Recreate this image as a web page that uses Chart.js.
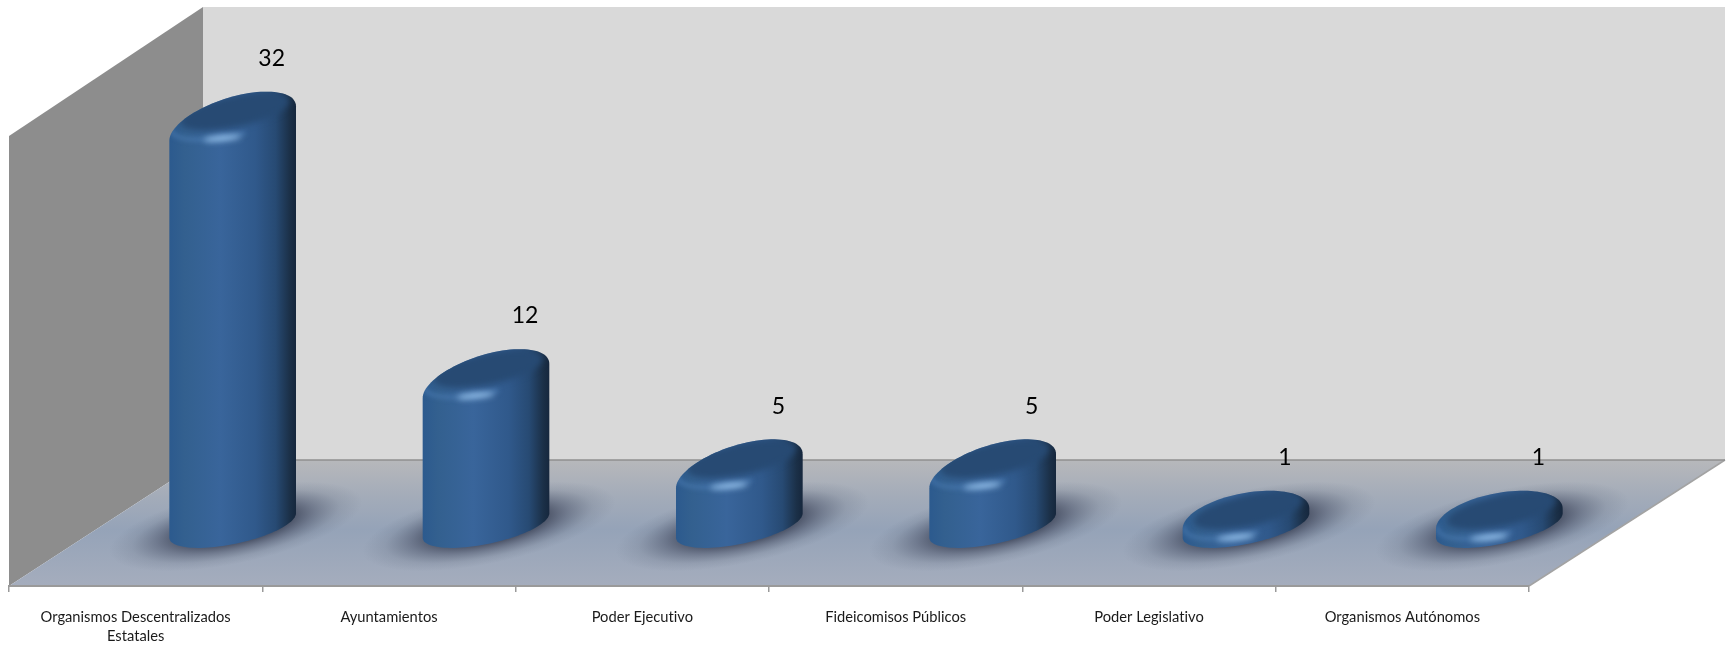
<!DOCTYPE html>
<html>
<head>
<meta charset="utf-8">
<style>
  html, body { margin: 0; padding: 0; background: #fff; }
  canvas { display: block; }
</style>
<script src="https://cdn.jsdelivr.net/npm/chart.js@4/dist/chart.umd.min.js"></script>
</head>
<body>
<canvas id="chart" width="1729" height="646"></canvas>
<script>
const categories = [
  ["Organismos Descentralizados", "Estatales"],
  "Ayuntamientos",
  "Poder Ejecutivo",
  "Fideicomisos Públicos",
  "Poder Legislativo",
  "Organismos Autónomos"
];
const values = [32, 12, 5, 5, 1, 1];

// 3D look of the Excel chart: how far the floor runs back
const depthX = 196;
const depthY = 126;
const labelDx = 136;
const labelDy = -55;

// cylinder base is a circle lying on the floor, so a sheared ellipse on screen
function ringShape(r) {
  const ratio = 0.545;
  return { a: r * Math.sqrt(1 - ratio * ratio), b: r * ratio, c: r * 0.354 };
}
function ringPath(ctx, s, cx, cy, from, to) {
  for (let i = 0; i <= 48; i++) {
    const t = from + (to - from) * i / 48;
    ctx.lineTo(cx + s.a * Math.cos(t) + s.b * Math.sin(t), cy - s.c * Math.sin(t));
  }
}
// bevelled top edge: the shoulder drops lower on the left, less so on thin discs
function shoulderPath(ctx, r, cx, cy, k) {
  const drop = r * 0.157 * k;
  const tilt = r * 0.27 * k;
  const reach = r * 0.345 + drop;
  const h = Math.sqrt(reach * reach - tilt * tilt);
  for (let i = 0; i <= 48; i++) {
    const u = Math.PI * i / 48;
    ctx.lineTo(cx + r * Math.cos(u), cy + drop - tilt * Math.cos(u) - h * Math.sin(u));
  }
}
function shear(ctx, s, cx, cy) {
  ctx.transform(s.a, 0, s.b, -s.c, cx, cy);
}

const roomPlugin = {
  id: "room",
  beforeDraw(chart) {
    const { ctx, chartArea: ca } = chart;
    ctx.letterSpacing = "0.01px"; // stops the Lato "ti" ligature
    const backL = ca.left + depthX - 2;
    const backB = ca.bottom - depthY;
    const backR = ca.right + depthX;
    ctx.save();
    // back wall
    ctx.fillStyle = "#d9d9d9";
    ctx.fillRect(backL, ca.top, backR - backL, backB - ca.top);
    // left wall
    ctx.fillStyle = "#8d8d8d";
    ctx.beginPath();
    ctx.moveTo(ca.left, ca.top + 129);
    ctx.lineTo(backL, ca.top);
    ctx.lineTo(backL, backB);
    ctx.lineTo(ca.left, ca.bottom);
    ctx.closePath();
    ctx.fill();
    // floor
    const g = ctx.createLinearGradient(0, backB, 0, ca.bottom);
    g.addColorStop(0, "#b7b8bb");
    g.addColorStop(0.28, "#a4acb9");
    g.addColorStop(0.55, "#95a3b8");
    g.addColorStop(1, "#a5adbd");
    ctx.fillStyle = g;
    ctx.beginPath();
    ctx.moveTo(ca.left, ca.bottom);
    ctx.lineTo(backL, backB);
    ctx.lineTo(backR, backB);
    ctx.lineTo(ca.right, ca.bottom);
    ctx.closePath();
    ctx.fill();
    ctx.strokeStyle = "#a3a3a3";
    ctx.lineWidth = 1.5;
    ctx.beginPath();
    ctx.moveTo(ca.right, ca.bottom);
    ctx.lineTo(backR, backB);
    ctx.stroke();
    ctx.strokeStyle = "#8f8f8f";
    ctx.beginPath();
    ctx.moveTo(backL, backB);
    ctx.lineTo(backR, backB);
    ctx.stroke();
    ctx.restore();
  },
  beforeDatasetsDraw(chart) {
    const { ctx } = chart;
    const meta = chart.getDatasetMeta(0);
    const y0 = chart.scales.y.getPixelForValue(0);
    meta.data.forEach(bar => {
      // soft shadow on the floor
      const s = ringShape(bar.width / 2);
      ctx.save();
      shear(ctx, s, bar.x + depthX / 2 + 2, y0 + 1);
      const g = ctx.createRadialGradient(0, 0, 0, 0, 0, 2);
      g.addColorStop(0, "rgba(50,56,74,0.85)");
      g.addColorStop(0.45, "rgba(55,62,82,0.78)");
      g.addColorStop(0.62, "rgba(66,74,96,0.48)");
      g.addColorStop(0.82, "rgba(78,88,108,0.15)");
      g.addColorStop(1, "rgba(85,95,115,0)");
      ctx.fillStyle = g;
      ctx.beginPath();
      ctx.arc(0, 0, 2, 0, Math.PI * 2);
      ctx.fill();
      ctx.restore();
    });
  },
  afterDatasetsDraw(chart) {
    const { ctx } = chart;
    const meta = chart.getDatasetMeta(0);
    meta.data.forEach((bar, i) => {
      const r = bar.width / 2;
      const s = ringShape(r);
      const cx = bar.x + depthX / 2 - 1;
      const t0 = Math.atan2(s.b, s.a);
      const k = Math.min(1, (bar.base - bar.y + 12) / 42);
      ctx.save();
      ctx.beginPath();
      shoulderPath(ctx, r, cx, bar.y, k);
      ringPath(ctx, s, cx, bar.base, t0 + Math.PI, t0 + 2 * Math.PI);
      ctx.closePath();
      const g = ctx.createLinearGradient(cx - r, 0, cx + r, 0);
      g.addColorStop(0, "#2c5a8e");
      g.addColorStop(0.12, "#33608f");
      g.addColorStop(0.4, "#39659b");
      g.addColorStop(0.68, "#30598b");
      g.addColorStop(0.84, "#274a73");
      g.addColorStop(0.95, "#1b3048");
      g.addColorStop(1, "#16273d");
      ctx.fillStyle = g;
      ctx.fill();
      ctx.clip();
      // top face, darker and a bit inside the rim
      ctx.save();
      ctx.filter = "blur(3px)";
      ctx.translate(cx + 2, bar.y - 2);
      shear(ctx, s, 0, 0);
      ctx.scale(0.86, 0.86);
      ctx.fillStyle = "#274a73";
      ctx.beginPath();
      ctx.arc(0, 0, 1, 0, Math.PI * 2);
      ctx.fill();
      ctx.restore();
      // lighter band along the front of the rim
      ctx.save();
      ctx.filter = "blur(2.5px)";
      ctx.strokeStyle = "rgba(80,130,185,0.75)";
      ctx.lineWidth = 3;
      ctx.beginPath();
      ringPath(ctx, { a: s.a * 0.98, b: s.b * 0.98, c: s.c * 1.08 }, cx, bar.y + 2, Math.PI * 1.15, Math.PI * 1.75);
      ctx.stroke();
      ctx.restore();
      // highlight on the front of the rim
      ctx.save();
      ctx.filter = "blur(3px)";
      ctx.translate(cx - r * 0.16, bar.y + r * 0.39);
      ctx.rotate(-0.1);
      ctx.scale(r * 0.3, 2.4);
      ctx.fillStyle = "#a5d0f7";
      ctx.beginPath();
      ctx.arc(0, 0, 1, 0, Math.PI * 2);
      ctx.fill();
      ctx.restore();
      ctx.restore();
      // value above the cylinder
      ctx.fillStyle = "#000";
      ctx.font = "23px Lato";
      ctx.textAlign = "center";
      ctx.textBaseline = "middle";
      ctx.fillText(String(values[i]), bar.x + labelDx, bar.y + labelDy);
    });
  }
};

new Chart(document.getElementById("chart"), {
  type: "bar",
  data: {
    labels: categories,
    datasets: [{
      data: values,
      backgroundColor: "transparent",
      barPercentage: 0.5,
      categoryPercentage: 1
    }]
  },
  options: {
    responsive: false,
    animation: false,
    layout: { padding: { left: 9, right: 200, top: 7, bottom: 0 } },
    plugins: { legend: { display: false }, tooltip: { enabled: false } },
    scales: {
      x: {
        grid: { drawOnChartArea: false, color: "#9a9a9a", tickLength: 6, lineWidth: 1.5 },
        border: { color: "#9a9a9a", width: 2 },
        ticks: {
          autoSkip: false, maxRotation: 0, minRotation: 0, padding: 16,
          color: "#1a1a1a", font: { family: "Lato", size: 14.7, lineHeight: 1.27 }
        },
        afterFit(scale) { scale.height = 60; }
      },
      y: { display: false, min: -4.7, max: 40.27 }
    }
  },
  plugins: [roomPlugin]
});
</script>
</body>
</html>
